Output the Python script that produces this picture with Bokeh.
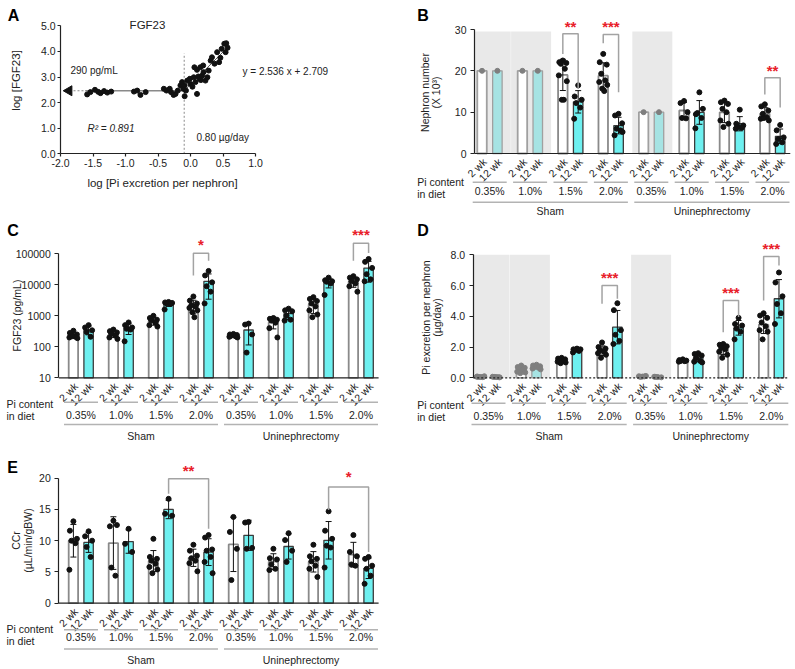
import numpy as np
from math import pi
from bokeh.plotting import figure
from bokeh.models import (Range1d, FixedTicker, PrintfTickFormatter, LinearAxis, LogAxis,
                          LogScale)
from bokeh.core.properties import value
from bokeh.embed import file_html
from bokeh.resources import INLINE

FONT = "Liberation Sans"

# ---------------- data ----------------
diets = ["0.35%", "1.0%", "1.5%", "2.0%", "0.35%", "1.0%", "1.5%", "2.0%"]
surgeries = ["Sham", "Uninephrectomy"]
weeks = ["2 wk", "12 wk"]

# Panel A: log Pi excretion per nephron vs log FGF23
a_log_pi = [-1.59, -1.54, -1.47, -1.42, -1.385, -1.33, -1.28, -1.22,
            -0.87, -0.82, -0.77, -0.69,
            -0.41, -0.37, -0.32, -0.30, -0.26, -0.23, -0.195, -0.155, -0.13, -0.11,
            -0.09, -0.09, -0.07, -0.05, -0.01, 0.0, 0.03, 0.05, 0.077, 0.10, 0.06,
            0.10, 0.12, 0.14, 0.15, 0.16, 0.18, 0.20, 0.23, 0.26, 0.195, 0.28, 0.33,
            0.31, 0.37, 0.41, 0.44, 0.46, 0.48, 0.52, 0.55, 0.57, 0.54]
a_log_fgf = [2.32, 2.41, 2.50, 2.42, 2.37, 2.45, 2.39, 2.43,
             2.43, 2.47, 2.30, 2.41,
             2.54, 2.47, 2.54, 2.41, 2.30, 2.34, 2.47, 2.67, 2.80, 2.54,
             2.67, 2.25, 2.47, 2.86, 2.93, 2.73, 2.62, 2.99, 2.80, 2.34, 3.38,
             3.28, 3.02, 2.93, 3.38, 2.88, 3.06, 3.19, 2.86, 2.99, 3.45, 3.25, 3.77,
             3.64, 3.52, 3.97, 3.58, 3.75, 4.10, 4.30, 4.32, 4.14, 3.97]
a_slope = 2.536
a_intercept = 2.709
a_r2 = 0.891
a_break_pi = 0.80      # ug/day
a_plateau_fgf = 290    # pg/mL
a_xticks = [-2.0, -1.5, -1.0, -0.5, 0.0, 0.5, 1.0]
a_yticks = [0.0, 1.0, 2.0, 3.0, 4.0, 5.0]

# Panel B: nephron number (x10^3); 8 groups (Sham 4 diets, UNx 4 diets)
nephron_2wk = [[20.0], [20.0],
               [22.5, 22.1, 21.9, 21.7, 20.5, 18.9, 17.5, 13.0, 13.0],
               [24.1, 22.1, 21.5, 19.3, 17.7, 17.3, 16.6, 15.7, 15.1],
               [10.0],
               [12.7, 12.2, 10.0, 8.6, 8.5],
               [12.8, 12.4, 12.0, 10.8, 10.0, 8.0, 7.2, 6.4],
               [11.9, 11.4, 10.4, 9.6, 8.8, 8.4, 8.0, 8.6]]
nephron_12wk = [[20.0], [20.0],
                [16.5, 13.8, 13.0, 12.2, 11.1, 8.4],
                [9.6, 9.2, 7.3, 6.0, 5.6, 4.4, 5.2],
                [10.0],
                [14.8, 9.5, 10.8, 9.8, 8.6, 6.1],
                [10.6, 7.2, 6.8, 6.4, 6.2, 6.0],
                [6.9, 5.6, 3.9, 3.5, 2.7, 2.3]]
b_yticks = [0, 10, 20, 30]
b_shaded = [0, 1, 4]
b_sig = [(4, 5, "**", 29.0, 24.1, 15.6, 30.7),
         (6, 7, "***", 28.8, 26.7, 14.8, 30.7),
         (14, 15, "**", 18.3, 14.3, 11.1, 20.2)]

# Panel C: FGF23 (pg/mL)
fgf23_2wk = [[330, 280, 250, 230, 210, 200, 190, 220],
             [360, 320, 290, 260, 230, 200, 180],
             [1000, 850, 750, 700, 600, 500, 450],
             [4200, 3100, 2500, 2200, 2000, 1800, 1500, 1300, 900],
             [260, 250, 240, 230, 220, 210, 200],
             [850, 800, 750, 700, 600, 400, 200],
             [4000, 3500, 3000, 2500, 2000, 1500, 1100, 900],
             [19000, 17000, 15000, 13000, 11000, 9000, 6000]]
fgf23_12wk = [[500, 420, 340, 300, 210],
              [610, 500, 420, 380, 360, 150],
              [2800, 2700, 2600, 2500, 2400, 1600],
              [28000, 20000, 12000, 9000, 6000, 2500],
              [560, 520, 250, 65],
              [1700, 1500, 1400, 1000, 750, 700],
              [17000, 14000, 13000, 12500, 11000, 4700],
              [68000, 55000, 35000, 22000, 15000, 13000]]
c_yticks = [10, 100, 1000, 10000, 100000]
c_sig = [(6, 7, "*", 105000, 20000, 60000, 200000),
         (14, 15, "***", 219000, 60000, 107000, 417000)]

# Panel D: Pi excretion per nephron (ug/day)
pi_exc_2wk = [[0.05, 0.08, 0.10, 0.06, 0.04, 0.07],
              [0.80, 0.70, 0.65, 0.55, 0.50, 0.40, 0.35, 0.30],
              [1.30, 1.25, 1.20, 1.15, 1.10, 1.05, 1.00, 0.95],
              [2.30, 2.00, 1.90, 1.80, 1.70, 1.60, 1.50, 1.30],
              [0.08, 0.10, 0.12, 0.06, 0.09],
              [1.20, 1.15, 1.12, 1.10, 1.08, 1.05],
              [2.20, 2.15, 2.05, 1.95, 1.85, 1.70, 1.50, 1.30],
              [4.20, 4.05, 3.90, 3.60, 3.35, 3.10, 3.00, 2.50]]
pi_exc_12wk = [[0.05, 0.07, 0.03, 0.06, 0.04],
               [0.85, 0.80, 0.75, 0.70, 0.65, 0.60, 0.55],
               [1.90, 1.85, 1.85, 1.80, 1.75, 1.65],
               [4.85, 4.40, 3.10, 2.80, 2.40, 2.20],
               [0.05, 0.07, 0.03, 0.06],
               [1.60, 1.55, 1.45, 1.30, 1.10, 1.05, 1.00],
               [3.90, 3.50, 3.40, 3.20, 3.00, 2.50],
               [6.85, 6.20, 5.30, 4.80, 4.20, 3.50]]
d_yticks = [0.0, 2.0, 4.0, 6.0, 8.0]
d_shaded = [0, 1, 4]
d_sig = [(6, 7, "***", 6.0, 4.81, 5.14, 6.5),
         (12, 13, "***", 5.03, 2.97, 3.95, 5.53),
         (14, 15, "***", 7.89, 5.03, 7.30, 8.39)]

# Panel E: CCr (uL/min/gBW)
ccr_2wk = [[13.1, 11.6, 10.3, 10.0, 9.6, 5.35],
           [13.2, 12.3, 12.5, 5.7, 4.4],
           [10.3, 7.4, 7.1, 6.8, 6.3, 5.8, 5.4, 4.8],
           [9.35, 8.4, 7.6, 7.2, 6.8, 6.4, 5.1],
           [13.8, 11.4, 8.7, 3.7],
           [8.7, 7.2, 7.0, 6.2, 5.5, 5.3],
           [9.35, 7.5, 7.1, 6.7, 6.0, 5.5, 4.2],
           [10.9, 8.2, 7.5, 6.2, 6.0]]
ccr_12wk = [[11.5, 10.7, 10.0, 9.0, 7.4],
            [11.9, 9.5, 8.2],
            [16.7, 14.3, 14.0],
            [10.9, 10.5, 8.6, 8.4, 7.4, 6.6, 4.8],
            [13.0, 12.9, 8.85, 8.7],
            [11.2, 10.1, 8.4, 6.6],
            [14.7, 11.6, 10.3, 9.2, 8.9, 5.7],
            [7.4, 7.1, 6.0, 5.5, 4.4, 3.1]]
e_yticks = [0, 5, 10, 15, 20]
e_sig = [(5, 7, "**", 19.9, 17.5, 11.9, 21.3),
         (13, 15, "*", 18.6, 14.9, 8.2, 20.2)]


# ---------------- one canvas; every panel gets its own named ranges ----------------
W, H = 795, 669


class Geo:
    """Maps page pixels to the data values of one panel."""
    def __init__(s, name, xpx0, xval0, sx, ypx0, yval0, sy, log=False):
        s.name = name
        s.xpx0, s.xval0, s.sx = xpx0, xval0, sx
        s.ypx0, s.yval0, s.sy = ypx0, yval0, sy
        s.log = log
        s.rn = dict(x_range_name=name, y_range_name=name)

    def X(s, px):
        return s.xval0 + (px - s.xpx0) / s.sx

    def Y(s, py):
        v = s.yval0 + (s.ypx0 - py) / s.sy
        return 10 ** v if s.log else v


gA = Geo("a", 60, -2.0, 65.0, 153.3, 0.0, 25.6)
gB = Geo("b", 489.2, 0.0, 40.4, 153.0, 0.0, 124 / 30)
gC = Geo("c", 80.5, 0.0, 40.0, 377.3, 1.0, 31.0, log=True)
gD = Geo("d", 488.0, 0.0, 40.4, 377.3, 0.0, 15.375)
gE = Geo("e", 80.5, 0.0, 40.0, 602.7, 0.0, 6.25)

p = figure(width=W, height=H, x_range=Range1d(0, W), y_range=Range1d(H, 0),
           x_axis_location=None, y_axis_location=None,
           output_backend="svg", toolbar_location=None,
           min_border_left=0, min_border_right=0, min_border_top=0, min_border_bottom=0)
p.outline_line_color = None
p.grid.visible = False
p.background_fill_color = "white"
p.border_fill_color = "white"
for g in (gA, gB, gC, gD, gE):
    p.extra_x_ranges[g.name] = Range1d(g.X(0), g.X(W))
    p.extra_y_ranges[g.name] = Range1d(g.Y(H), g.Y(0))
p.extra_y_scales = {"c": LogScale()}

TXT = "#222222"
CYAN = "#6ef0f0"
CYAN_FADED = "#a6e3e3"
RED = "#e8202a"
JIT = [0, -3.5, 3.5, -2, 2, -4, 4, -1, 1, -3, 3]


def add_axis(g, side, loc, ticks, fmt, tick_out=4, standoff=4):
    cls = LogAxis if g.log else LinearAxis
    ax = cls(fixed_location=loc, bounds=(ticks[0], ticks[-1]),
             ticker=FixedTicker(ticks=ticks, minor_ticks=[]),
             formatter=PrintfTickFormatter(format=fmt), **g.rn)
    ax.major_tick_out = tick_out
    ax.major_tick_in = 0
    ax.minor_tick_out = 0
    ax.minor_tick_in = 0
    ax.axis_line_color = TXT
    ax.axis_line_width = 1.2
    ax.major_tick_line_color = TXT
    ax.major_tick_line_width = 1.2
    ax.major_label_text_font = FONT
    ax.major_label_text_font_size = "10.5px"
    ax.major_label_text_color = TXT
    ax.major_label_standoff = standoff
    p.add_layout(ax, side)
    return ax


def add_text(g, x, y, text, size="10px", align="center", baseline="middle",
             angle=0, style="normal", color=TXT):
    p.text(x=x, y=y, text=text, text_font=value(FONT), text_font_size=size,
           text_align=align, text_baseline=baseline, angle=angle,
           text_font_style=style, text_color=color, **g.rn)


def add_letter(g, letter, px, py):
    add_text(g, [g.X(px)], [g.Y(py)], [letter], size="16px", align="left",
             baseline="middle", style="bold", color="#000000")


# ---------------- Panel A ----------------
add_axis(gA, "left", a_xticks[0], a_yticks, "%.1f", tick_out=3, standoff=2)
add_axis(gA, "below", a_yticks[0], a_xticks, "%.1f", tick_out=3, standoff=2)

x_break = float(np.log10(a_break_pi))
y_plateau = float(np.log10(a_plateau_fgf))
x_first = min(a_log_pi) - 0.03
p.segment(x0=[x_first], y0=[y_plateau], x1=[x_break], y1=[y_plateau],
          line_color="#8a8a8a", line_width=1.5, **gA.rn)
p.segment(x0=[gA.X(73)], y0=[y_plateau], x1=[x_first], y1=[y_plateau],
          line_color="#8a8a8a", line_width=1.2, line_dash="2 2", **gA.rn)
p.scatter(x=[gA.X(68.5)], y=[y_plateau], marker="triangle", angle=pi / 2, size=10,
          fill_color="#111111", line_color="#111111", **gA.rn)
p.segment(x0=[x_break], y0=[0], x1=[x_break], y1=[gA.Y(53)],
          line_color="#8a8a8a", line_width=1, line_dash="2 2", **gA.rn)
x_end = max(a_log_pi) + 0.03
p.segment(x0=[x_break], y0=[a_slope * x_break + a_intercept], x1=[x_end],
          y1=[a_slope * x_end + a_intercept], line_color="#555555", line_width=1, **gA.rn)
p.scatter(x=a_log_pi, y=a_log_fgf, size=5, fill_color="#111111", line_color="#111111",
          **gA.rn)
add_text(gA, [gA.X(147)], [gA.Y(24)], ["FGF23"], size="11.5px")
add_text(gA, [gA.X(70)], [gA.Y(70)], [f"{a_plateau_fgf} pg/mL"], align="left")
add_text(gA, [gA.X(242)], [gA.Y(71)], [f"y = {a_slope} x + {a_intercept}"], align="left")
add_text(gA, [gA.X(87)], [gA.Y(128)], [f"R\u00b2 = {a_r2}"], align="left", style="italic")
add_text(gA, [gA.X(196)], [gA.Y(137)], [f"{a_break_pi:.2f} \u00b5g/day"], align="left")
add_text(gA, [gA.X(15)], [gA.Y(80)], ["log [FGF23]"], size="11.5px", angle=pi / 2)
add_text(gA, [gA.X(162)], [gA.Y(182)], ["log [Pi excretion per nephron]"], size="11.5px")
add_letter(gA, "A", 7.3, 15)


# ---------------- bar panels ----------------
def bar_panel(g, vals2, vals12, shaded, shade_top, sigs, yticks, yfmt, base_dash,
              axis_px, letter, letter_px, ytitles, pi_x, offs):
    rn = g.rn
    x_axis = g.X(axis_px)
    add_axis(g, "left", x_axis, yticks, yfmt)
    sx = g.sx
    off = 0.19
    xs = [gi + (w - 0.5) * 2 * off for gi in range(8) for w in (0, 1)]
    vals = [v for pair in zip(vals2, vals12) for v in pair]
    base = g.Y(g.ypx0)
    sh = [k // 2 in shaded for k in range(16)]

    if shaded:
        p.quad(left=[max(gi - 0.47, x_axis) for gi in shaded],
               right=[gi + 0.52 for gi in shaded],
               bottom=[base] * len(shaded), top=[shade_top] * len(shaded),
               fill_color="#e9e9e9", line_color=None, **rn)

    means = [float(np.mean(v)) for v in vals]
    sds = [float(np.std(v, ddof=1)) if len(v) > 1 else 0.0 for v in vals]
    fill = ["#ffffff" if k % 2 == 0 else (CYAN_FADED if sh[k] else CYAN) for k in range(16)]
    line = ["#a0a0a0" if sh[k] else ("#8a8a8a" if k % 2 == 0 else "#3c3c3c") for k in range(16)]
    lw = [1.8 if k % 2 == 0 else 1.3 for k in range(16)]
    p.vbar(x=xs, top=means, bottom=base, width=0.235, fill_color=fill,
           line_color=line, line_width=lw, **rn)

    # error bars (mean +/- SD)
    ex, lo, hi = [], [], []
    for k in range(16):
        if sh[k] or len(vals[k]) < 2:
            continue
        ex.append(xs[k])
        l = means[k] - sds[k]
        if g.log:
            l = max(l, base * 1.2)
        lo.append(l)
        hi.append(means[k] + sds[k])
    cap = 3.0 / sx
    p.segment(x0=ex, y0=lo, x1=ex, y1=hi, line_color="#111111", line_width=1, **rn)
    p.segment(x0=[x - cap for x in ex], y0=hi, x1=[x + cap for x in ex], y1=hi,
              line_color="#111111", line_width=1, **rn)
    p.segment(x0=[x - cap for x in ex], y0=lo, x1=[x + cap for x in ex], y1=lo,
              line_color="#111111", line_width=1, **rn)

    # individual points
    ptx, pty, ptc = [], [], []
    for k, v in enumerate(vals):
        for i, val in enumerate(v):
            o = 0 if len(v) == 1 else JIT[i % len(JIT)]
            ptx.append(xs[k] + o / sx)
            pty.append(val)
            ptc.append("#7f7f7f" if sh[k] else "#111111")
    p.scatter(x=ptx, y=pty, size=5, fill_color=ptc, line_color=ptc, **rn)

    # baseline
    p.segment(x0=[x_axis], y0=[base], x1=[7.44], y1=[base], line_color=TXT,
              line_width=1.2, line_dash=base_dash, **rn)

    # significance brackets
    for (a, b, lab, top, la, lb, ly) in sigs:
        p.multi_line(xs=[[xs[a], xs[a], xs[b], xs[b]]], ys=[[la, top, top, lb]],
                     line_color="#a3a3a3", line_width=1.5, **rn)
        add_text(g, [(xs[a] + xs[b]) / 2], [ly], [lab], size="15px", color=RED,
                 style="bold")

    # category labels
    yb = g.ypx0
    add_text(g, [x + 2.5 / sx for x in xs], [g.Y(yb + 6.5)] * 16,
             [weeks[k % 2] for k in range(16)], angle=pi / 4, align="right", size="10.5px")
    gl = g.Y(yb + offs[0])
    p.segment(x0=[gi - 17 / sx for gi in range(8)], y0=[gl] * 8,
              x1=[gi + 17 / sx for gi in range(8)], y1=[gl] * 8,
              line_color="#b3b3b3", line_width=1.5, **rn)
    add_text(g, list(range(8)), [g.Y(yb + offs[1])] * 8, diets, size="10.5px")
    sl = g.Y(yb + offs[2])
    p.segment(x0=[0 - 17 / sx, 4 - 17 / sx], y0=[sl, sl], x1=[3 + 17 / sx, 7 + 17 / sx],
              y1=[sl, sl], line_color="#b3b3b3", line_width=1.5, **rn)
    add_text(g, [1.5, 5.5], [g.Y(yb + offs[3])] * 2, surgeries, size="10.5px")
    add_text(g, [g.X(pi_x)] * 2, [g.Y(yb + offs[4]), g.Y(yb + offs[5])],
             ["Pi content", "in diet"], size="10.5px", align="left")

    for (t, tx, ty) in ytitles:
        add_text(g, [g.X(tx)], [g.Y(ty)], [t], angle=pi / 2, size="10.5px")
    add_letter(g, letter, letter_px[0], letter_px[1])


bar_panel(gB, nephron_2wk, nephron_12wk, b_shaded, 29.5, b_sig, b_yticks, "%d", "solid",
          474.0, "B", (416.7, 15),
          [("Nephron number", 424.5, 92), ("(X 10\u00b3)", 435.5, 92)], 416.7,
          (28.7, 37.7, 48.7, 57.7, 28.7, 40.3))
bar_panel(gC, fgf23_2wk, fgf23_12wk, [], 0, c_sig, c_yticks, "%d", "solid",
          58.3, "C", (6.7, 230),
          [("FGF23 (pg/mL)", 16, 315)], 6,
          (24.4, 36.7, 46.7, 57.7, 26, 37.7))
bar_panel(gD, pi_exc_2wk, pi_exc_12wk, d_shaded, 8.0, d_sig, d_yticks, "%.1f", "2 2",
          472.7, "D", (416.7, 230),
          [("Pi excretion per nephron", 425, 317), ("(\u00b5g/day)", 436, 317)], 416.7,
          (25.4, 37.7, 46.7, 57.7, 27, 39))
bar_panel(gE, ccr_2wk, ccr_12wk, [], 0, e_sig, e_yticks, "%d", "solid",
          58.3, "E", (6.7, 466.7),
          [("CCr", 15.8, 540), ("(\u00b5L/min/gBW)", 27, 540)], 6,
          (26.6, 34, 45.7, 56.7, 25.6, 38))

open("out.html", "w").write(file_html(p, INLINE))
